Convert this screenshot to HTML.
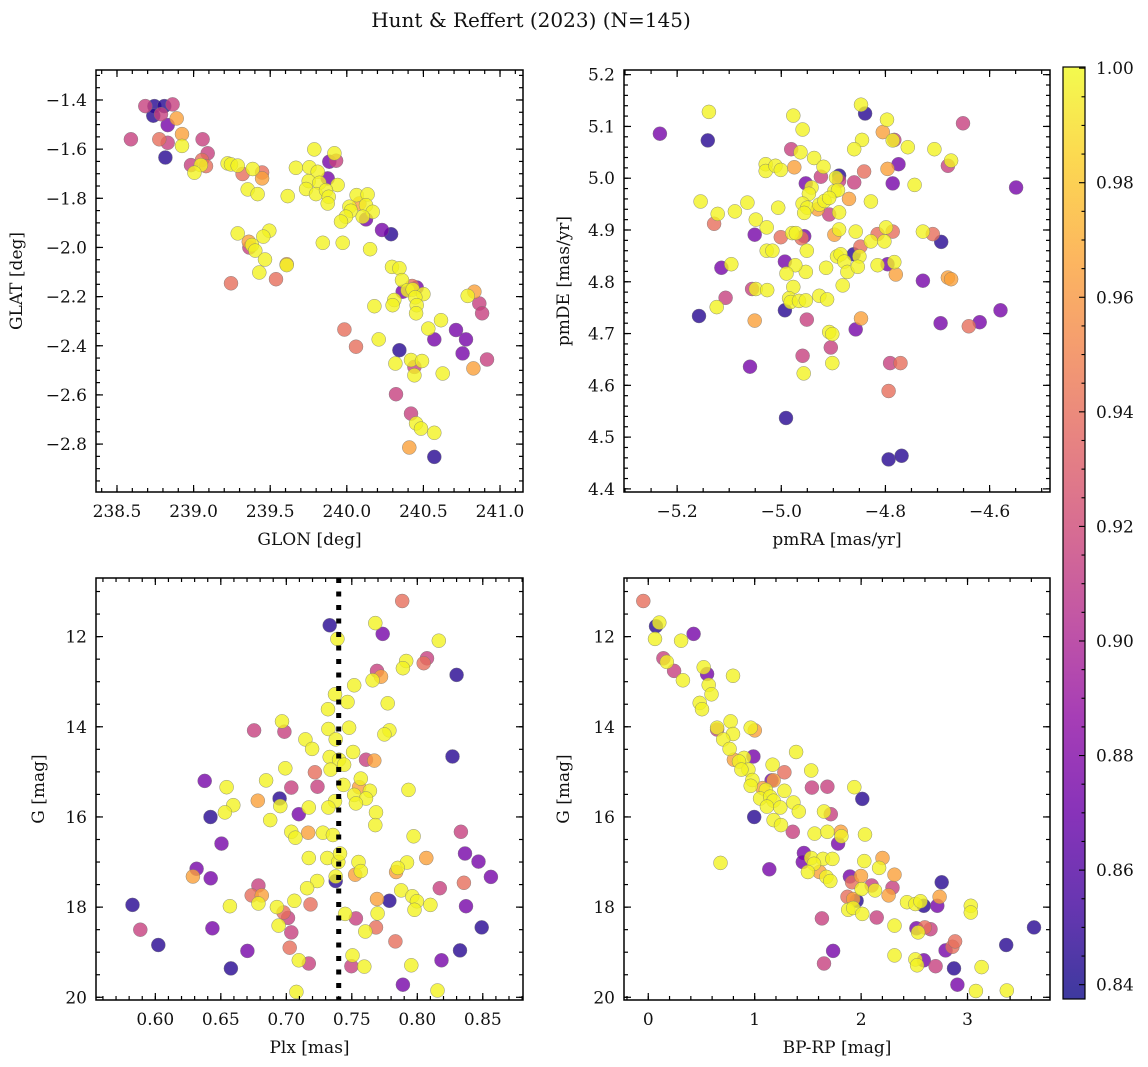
<!DOCTYPE html>
<html><head><meta charset="utf-8"><style>
html,body{margin:0;padding:0;background:#fff;}
svg{display:block;font-family:"DejaVu Serif","Liberation Serif",serif;}
</style></head><body>
<svg id="fig" width="1148" height="1067" viewBox="0 0 1148 1067" xmlns="http://www.w3.org/2000/svg">
<defs>
<linearGradient id="plasmaGrad" x1="0" y1="1" x2="0" y2="0">
<stop offset="0" stop-color="#0d0887"/><stop offset="0.1" stop-color="#41049d"/><stop offset="0.2" stop-color="#6a00a8"/><stop offset="0.3" stop-color="#8f0da4"/><stop offset="0.4" stop-color="#b12a90"/><stop offset="0.5" stop-color="#cc4778"/><stop offset="0.6" stop-color="#e16462"/><stop offset="0.7" stop-color="#f2844b"/><stop offset="0.8" stop-color="#fca636"/><stop offset="0.9" stop-color="#fcce25"/><stop offset="1" stop-color="#f0f921"/>
</linearGradient>
</defs>
<text x="531" y="27" font-size="20" text-anchor="middle" fill="#111">Hunt &amp; Reffert (2023) (N=145)</text>
</svg>
<script>
// ---------- data ----------
const glon = [238.685,238.744,238.809,238.863,238.737,238.787,238.890,238.831,238.924,238.591,238.776,238.831,239.059,238.924,238.816,239.092,238.983,239.055,239.048,239.005,239.081,239.222,239.244,239.288,239.320,239.386,239.447,239.447,239.353,239.418,239.614,239.668,239.788,239.919,239.886,239.930,239.756,239.810,239.875,239.751,239.821,239.940,239.734,239.799,239.864,239.882,239.875,240.064,240.136,240.082,240.125,240.017,240.169,240.027,239.995,239.962,240.104,240.125,240.230,240.289,239.288,239.494,239.455,239.360,239.364,239.381,239.403,239.843,239.973,240.152,239.466,239.608,239.608,239.429,239.244,239.538,240.295,240.343,240.360,240.365,240.426,240.456,240.397,240.430,240.500,240.447,240.456,240.452,240.310,240.299,240.180,240.833,240.789,240.865,240.883,240.615,240.713,240.532,240.571,240.778,240.756,239.984,240.060,240.208,240.343,240.317,240.419,240.491,240.441,240.441,240.626,240.826,240.915,240.321,240.419,240.452,240.484,240.571,240.408,240.571];
const glat = [-1.425,-1.425,-1.425,-1.418,-1.464,-1.458,-1.475,-1.502,-1.539,-1.560,-1.560,-1.574,-1.560,-1.587,-1.634,-1.617,-1.665,-1.644,-1.665,-1.696,-1.669,-1.658,-1.662,-1.667,-1.701,-1.681,-1.695,-1.719,-1.764,-1.783,-1.791,-1.676,-1.601,-1.617,-1.651,-1.647,-1.674,-1.692,-1.719,-1.730,-1.737,-1.746,-1.762,-1.783,-1.767,-1.794,-1.821,-1.787,-1.784,-1.821,-1.828,-1.834,-1.855,-1.851,-1.875,-1.895,-1.875,-1.886,-1.929,-1.946,-1.943,-1.932,-1.956,-1.977,-2.000,-1.990,-2.013,-1.981,-1.981,-2.007,-2.049,-2.068,-2.072,-2.102,-2.146,-2.129,-2.079,-2.085,-2.133,-2.180,-2.157,-2.163,-2.174,-2.171,-2.190,-2.203,-2.235,-2.268,-2.214,-2.235,-2.239,-2.180,-2.197,-2.228,-2.268,-2.296,-2.336,-2.330,-2.374,-2.374,-2.431,-2.334,-2.404,-2.374,-2.418,-2.472,-2.458,-2.462,-2.486,-2.520,-2.513,-2.492,-2.456,-2.597,-2.676,-2.716,-2.737,-2.754,-2.814,-2.852];
const prob1 = [.915,.845,.845,.915,.845,.915,.965,.875,.965,.915,.94,.915,.915,.998,.845,.915,.915,.94,.998,.998,.94,.998,.998,.998,.94,.998,.94,.965,.998,.998,.998,.998,.998,.998,.875,.915,.998,.998,.875,.998,.998,.998,.998,.998,.998,.998,.998,.998,.998,.965,.998,.998,.998,.998,.998,.998,.998,.875,.875,.845,.998,.998,.998,.965,.915,.998,.998,.998,.998,.998,.998,.965,.998,.998,.94,.94,.998,.998,.998,.875,.94,.875,.998,.998,.998,.998,.998,.998,.998,.998,.998,.965,.998,.915,.915,.998,.875,.998,.875,.875,.875,.94,.94,.998,.845,.998,.998,.998,.915,.998,.998,.965,.915,.915,.915,.998,.998,.998,.965,.845];

const pmra = [-5.233,-5.141,-5.139,-4.977,-4.959,-4.847,-4.839,-4.797,-4.805,-4.783,-4.786,-4.845,-4.860,-4.757,-4.706,-4.651,-4.981,-4.963,-4.937,-5.030,-5.030,-5.011,-5.001,-4.975,-4.919,-4.924,-4.889,-4.895,-4.889,-4.860,-4.841,-4.796,-4.775,-4.680,-4.674,-4.786,-4.744,-4.549,-4.953,-4.942,-4.947,-4.898,-4.891,-4.870,-4.828,-5.155,-5.065,-5.089,-5.122,-5.129,-5.006,-5.049,-5.028,-4.959,-4.950,-4.956,-4.930,-4.927,-4.917,-4.908,-4.908,-4.889,-5.051,-5.001,-4.979,-4.972,-4.956,-4.961,-4.951,-5.028,-5.017,-4.898,-4.889,-4.857,-4.848,-4.861,-4.850,-4.828,-4.815,-4.799,-4.786,-4.802,-4.728,-4.709,-4.693,-4.893,-4.886,-4.879,-4.873,-4.853,-4.882,-4.914,-4.953,-4.973,-4.990,-4.993,-4.977,-4.815,-4.796,-4.783,-4.780,-4.728,-4.680,-4.674,-5.115,-5.096,-5.107,-5.124,-5.158,-5.056,-5.049,-5.027,-5.051,-4.993,-4.985,-4.982,-4.966,-4.953,-4.927,-4.912,-4.951,-4.908,-4.902,-4.847,-4.857,-4.905,-4.959,-4.902,-4.957,-5.060,-4.694,-4.640,-4.619,-4.579,-4.791,-4.771,-4.794,-4.991,-4.794,-4.769];
const pmde = [5.086,5.073,5.128,5.121,5.094,5.142,5.125,5.113,5.089,5.074,5.073,5.074,5.056,5.060,5.056,5.106,5.056,5.050,5.039,5.027,5.014,5.024,5.016,5.021,5.022,5.003,5.005,5.001,4.995,4.992,5.013,5.018,5.027,5.024,5.034,4.990,4.987,4.982,4.990,4.982,4.970,4.975,4.977,4.960,4.955,4.955,4.953,4.936,4.931,4.912,4.943,4.920,4.905,4.951,4.943,4.933,4.940,4.949,4.956,4.962,4.930,4.934,4.891,4.886,4.894,4.894,4.888,4.884,4.860,4.860,4.860,4.891,4.901,4.897,4.868,4.853,4.849,4.878,4.892,4.905,4.897,4.878,4.897,4.892,4.877,4.849,4.853,4.839,4.819,4.829,4.793,4.827,4.819,4.832,4.816,4.839,4.790,4.832,4.834,4.838,4.814,4.802,4.808,4.805,4.827,4.834,4.769,4.751,4.734,4.786,4.786,4.784,4.725,4.745,4.768,4.761,4.763,4.764,4.773,4.766,4.727,4.703,4.699,4.729,4.708,4.673,4.657,4.643,4.623,4.636,4.720,4.714,4.722,4.745,4.643,4.643,4.589,4.537,4.457,4.464];
const prob2 = [.875,.845,.998,.998,.998,.998,.845,.998,.965,.915,.998,.998,.998,.998,.998,.915,.915,.998,.998,.998,.998,.998,.998,.965,.998,.915,.845,.998,.915,.915,.94,.965,.875,.915,.998,.875,.998,.875,.875,.998,.998,.998,.998,.965,.998,.998,.998,.998,.998,.94,.998,.998,.998,.998,.998,.998,.965,.998,.998,.998,.915,.998,.875,.94,.998,.998,.875,.94,.998,.998,.998,.965,.998,.998,.94,.845,.998,.998,.94,.998,.94,.998,.998,.94,.845,.998,.998,.998,.998,.998,.998,.998,.998,.998,.998,.875,.998,.998,.875,.998,.965,.875,.965,.965,.875,.998,.915,.998,.845,.915,.998,.998,.965,.845,.998,.998,.998,.998,.998,.998,.915,.998,.998,.965,.875,.915,.915,.998,.998,.875,.875,.94,.875,.875,.915,.94,.94,.845,.845,.845];

const plx = [.7885,.7331,.7679,.7736,.7390,.8164,.8074,.8049,.7915,.7890,.7692,.7723,.7659,.7518,.8300,.7372,.7467,.7774,.7318,.6967,.6754,.6985,.7321,.7479,.7787,.7749,.7377,.7146,.7197,.7510,.8269,.7331,.7403,.7441,.7608,.7672,.7338,.7218,.6992,.6846,.6377,.6544,.7038,.7238,.7569,.7556,.7436,.7518,.7638,.7608,.7531,.7372,.7321,.7172,.7933,.6782,.6949,.6954,.6595,.6531,.6421,.7095,.6877,.7685,.7679,.7038,.7069,.7167,.7279,.7356,.7972,.8333,.6505,.7172,.7313,.7397,.7410,.7551,.7569,.7526,.8069,.7921,.7851,.7838,.8364,.8467,.8562,.8356,.8172,.8372,.8492,.8326,.8185,.8154,.7890,.7954,.7833,.7787,.7877,.7962,.7997,.7979,.8100,.7692,.7697,.7685,.7603,.7531,.7449,.7377,.7377,.7236,.7159,.7185,.7062,.6928,.6979,.7013,.6941,.7038,.7026,.7095,.7172,.7077,.7505,.7497,.7595,.6787,.6736,.6813,.6787,.6569,.6315,.6287,.6423,.5826,.5885,.6023,.6436,.6703,.6577];
const gmag3 = [11.21,11.75,11.70,11.94,12.05,12.09,12.48,12.59,12.54,12.70,12.76,12.89,12.97,13.08,12.85,13.28,13.45,13.48,13.61,13.88,14.08,14.11,14.05,14.02,14.08,14.17,14.28,14.28,14.49,14.56,14.66,14.67,14.73,14.84,14.73,14.75,14.95,15.01,14.92,15.19,15.20,15.34,15.35,15.33,15.15,15.34,15.29,15.51,15.42,15.59,15.70,15.65,15.79,15.79,15.40,15.64,15.59,15.76,15.74,15.90,16.00,15.94,16.07,15.90,16.18,16.33,16.46,16.35,16.35,16.40,16.43,16.33,16.59,16.91,16.91,17.00,16.81,17.00,17.20,17.28,16.91,17.01,17.13,17.22,16.81,16.99,17.33,17.46,17.58,17.98,18.45,18.96,19.18,19.85,19.72,19.29,18.76,17.86,17.63,17.76,17.87,18.06,17.95,17.82,18.14,18.45,18.54,18.25,18.15,17.42,17.32,17.42,17.58,17.94,17.86,18.00,18.12,18.24,18.41,18.56,18.90,19.18,19.25,19.88,19.07,19.31,19.32,17.52,17.74,17.74,17.92,17.98,17.15,17.32,17.36,17.95,18.50,18.84,18.47,18.97,19.36];
const prob3 = [.94,.845,.998,.875,.998,.998,.915,.94,.998,.998,.915,.965,.998,.998,.845,.998,.998,.998,.998,.998,.915,.915,.998,.998,.998,.998,.998,.998,.998,.998,.845,.998,.998,.998,.915,.965,.998,.94,.998,.998,.875,.998,.915,.915,.998,.965,.998,.998,.998,.998,.998,.998,.998,.998,.998,.965,.845,.998,.998,.998,.845,.875,.998,.998,.998,.998,.998,.965,.998,.998,.998,.915,.875,.998,.998,.998,.998,.998,.998,.965,.965,.998,.998,.965,.875,.875,.875,.94,.915,.875,.845,.845,.875,.998,.875,.998,.94,.845,.998,.998,.998,.998,.998,.965,.998,.94,.998,.915,.998,.845,.998,.998,.998,.94,.998,.998,.94,.915,.998,.915,.94,.998,.915,.998,.998,.915,.998,.915,.94,.965,.998,.998,.875,.965,.875,.845,.915,.845,.875,.875,.845];

const bprp = [-0.047,0.073,0.104,0.063,0.309,0.426,0.142,0.174,0.243,0.325,0.521,0.553,0.796,0.568,0.594,0.483,0.505,0.774,0.647,0.647,0.963,1.001,0.796,0.704,0.764,1.389,0.988,0.805,0.900,0.853,0.941,0.875,1.168,1.279,1.531,0.979,1.159,1.178,0.963,1.074,1.105,1.279,1.538,1.683,1.936,2.011,1.051,1.146,1.178,1.115,1.241,1.364,1.415,0.995,1.178,1.247,1.651,1.715,1.358,1.563,1.683,1.809,1.815,1.784,2.037,0.679,1.137,1.462,1.452,1.531,1.642,1.730,1.557,1.500,1.610,1.674,1.711,2.030,2.201,2.169,1.895,1.999,1.915,2.005,2.100,2.131,2.314,2.295,2.258,1.872,1.958,1.926,1.879,1.926,2.011,2.147,1.632,1.737,1.651,2.314,2.314,2.431,2.510,2.558,2.589,2.716,2.757,2.738,3.031,3.031,2.520,2.536,2.652,2.599,2.794,2.858,2.883,2.510,2.526,2.589,2.700,2.873,2.905,3.079,3.132,3.363,3.369,3.625];
const gmag4 = [11.21,11.77,11.69,12.05,12.09,11.94,12.48,12.56,12.76,12.97,12.68,12.83,12.87,13.07,13.28,13.47,13.61,13.88,14.06,14.02,14.02,14.08,14.16,14.28,14.49,14.56,14.66,14.73,14.69,14.77,14.95,14.95,14.84,15.01,14.97,15.18,15.19,15.19,15.31,15.36,15.40,15.42,15.35,15.33,15.34,15.60,15.59,15.55,15.64,15.77,15.79,15.68,15.88,16.00,16.07,16.18,15.88,15.94,16.33,16.37,16.33,16.33,16.43,16.59,16.39,17.02,17.16,16.80,17.00,16.91,16.93,16.93,17.04,17.22,17.22,17.33,17.42,16.98,16.91,17.13,17.32,17.31,17.45,17.60,17.52,17.63,17.28,17.57,17.74,17.77,17.86,17.82,18.06,18.02,18.15,18.23,18.25,18.97,19.25,18.41,19.07,17.89,17.93,17.87,17.97,17.97,17.45,17.77,17.97,18.12,18.47,18.56,18.49,18.45,18.96,18.88,18.76,19.16,19.29,19.18,19.31,19.36,19.72,19.86,19.33,18.84,19.85,18.45];
const prob4 = [.94,.845,.998,.998,.998,.875,.915,.998,.915,.998,.998,.875,.998,.998,.998,.998,.998,.998,.915,.998,.998,.965,.998,.998,.998,.998,.875,.965,.998,.998,.998,.998,.998,.94,.998,.998,.875,.965,.998,.965,.998,.998,.915,.915,.998,.845,.998,.998,.998,.998,.998,.998,.998,.845,.998,.998,.998,.915,.915,.998,.998,.965,.998,.875,.998,.998,.875,.875,.875,.998,.998,.998,.998,.998,.965,.998,.998,.998,.965,.998,.875,.965,.94,.998,.915,.998,.965,.915,.965,.94,.845,.965,.998,.998,.998,.915,.915,.875,.915,.998,.998,.998,.998,.998,.845,.875,.845,.965,.998,.998,.875,.998,.915,.94,.875,.94,.94,.998,.998,.875,.915,.845,.875,.998,.998,.845,.998,.845];

const cbTicks = [0.84,0.86,0.88,0.90,0.92,0.94,0.96,0.98,1.00];
const plxMedian = 0.74;

// ---------- rendering ----------
const NS = "http://www.w3.org/2000/svg";
const svg = document.getElementById('fig');
const VMIN = 0.8375, VMAX = 1.0002;
const FS = 17;
const stops = [[13,8,135],[65,4,157],[106,0,168],[143,13,164],[177,42,144],[204,71,120],[225,100,98],[242,132,75],[252,166,54],[252,206,37],[240,249,33]];
function plasma(v){
  let t = Math.max(0, Math.min(1, (v - VMIN) / (VMAX - VMIN))) * 10;
  const i = Math.min(9, Math.floor(t)), f = t - i;
  const a = stops[i], b = stops[i+1];
  return 'rgb(' + a.map((c,k)=>Math.round(c + (b[k]-c)*f)).join(',') + ')';
}
function mk(tag, attrs, parent){
  const e = document.createElementNS(NS, tag);
  for (const k in attrs) e.setAttribute(k, attrs[k]);
  (parent || svg).appendChild(e);
  return e;
}
function lin(d0,d1,p0,p1){ return v => p0 + (v-d0)/(d1-d0)*(p1-p0); }
function fmt(v,dec){ const s = Math.abs(v).toFixed(dec); return (v < -1e-9 ? '\u2212' : '') + s; }

function panel(cfg){
  const g = mk('g', {});
  
  
  const sx = lin(cfg.xd[0], cfg.xd[1], cfg.L, cfg.R);
  const sy = lin(cfg.yd[0], cfg.yd[1], cfg.B, cfg.T);
  const idx = cfg.x.map((_,i)=>i).sort((a,b)=>cfg.p[a]-cfg.p[b]);
  const pg = mk('g', {}, g);
  
  
  idx.forEach(i=>{
    const c = mk('circle', {cx: sx(cfg.x[i]).toFixed(1), cy: sy(cfg.y[i]).toFixed(1), r: 7, fill: plasma(cfg.p[i]), 'fill-opacity': 0.8, stroke: '#777', 'stroke-width': 0.5, 'stroke-opacity': 0.8}, pg);
    
    
  });
  if (cfg.vline !== undefined){
    const l = mk('line', {x1: sx(cfg.vline), x2: sx(cfg.vline), y1: cfg.T, y2: cfg.B, stroke: '#000', 'stroke-width': 5, 'stroke-dasharray': '5,8.5'}, g);
    
    
  }
  const fr = mk('rect', {x: cfg.L, y: cfg.T, width: cfg.R-cfg.L, height: cfg.B-cfg.T, fill: 'none', stroke: '#000', 'stroke-width': 1.5}, g);
  
  
  const tg = mk('g', {stroke: '#000', 'stroke-width': 1.2}, g);
  function ticks(axis, step, len){
    const [d0, d1] = axis === 'x' ? cfg.xd : cfg.yd;
    const lo = Math.min(d0,d1), hi = Math.max(d0,d1);
    for (let k = Math.ceil(lo/step - 1e-6); k*step <= hi + 1e-9; k++){
      const v = k*step;
      if (axis === 'x'){ const p = sx(v);
        mk('line', {x1:p,x2:p,y1:cfg.B,y2:cfg.B-len}, tg); mk('line', {x1:p,x2:p,y1:cfg.T,y2:cfg.T+len}, tg);
      } else { const p = sy(v);
        mk('line', {x1:cfg.L,x2:cfg.L+len,y1:p,y2:p}, tg); mk('line', {x1:cfg.R,x2:cfg.R-len,y1:p,y2:p}, tg);
      }
    }
  }
  ticks('x', cfg.xminor, 4); ticks('x', cfg.xmajor, 7);
  ticks('y', cfg.yminor, 4); ticks('y', cfg.ymajor, 7);
  cfg.xticks.forEach(v=>{
    const t = mk('text', {x: sx(v), y: cfg.B+25, 'font-size': FS, 'text-anchor': 'middle', fill: '#111'}, g);
    t.textContent = fmt(v, cfg.xdec);
    
    
  });
  cfg.yticks.forEach(v=>{
    const t = mk('text', {x: cfg.L-9, y: sy(v)+6, 'font-size': FS, 'text-anchor': 'end', fill: '#111'}, g);
    t.textContent = fmt(v, cfg.ydec);
    
    
  });
  const xl = mk('text', {x: (cfg.L+cfg.R)/2, y: cfg.B+53, 'font-size': FS, 'text-anchor': 'middle', fill: '#111'}, g);
  xl.textContent = cfg.xlabel;
  
  
  const cy = (cfg.T+cfg.B)/2;
  const yl = mk('text', {x: cfg.ylx, y: cy, 'font-size': FS, 'text-anchor': 'middle', fill: '#111', transform: 'rotate(-90 '+cfg.ylx+' '+cy+')'}, g);
  yl.textContent = cfg.ylabel;
  
  
}

function range(a,b,s){ const r=[]; for(let v=a; v<=b+1e-9; v+=s) r.push(Math.round(v*1000)/1000); return r; }

panel({name:'glon-glat-panel', x:glon, y:glat, p:prob1, L:96, R:523, T:70, B:492,
  xd:[238.363,241.150], yd:[-2.995,-1.278], xmajor:0.5, xminor:0.1, ymajor:0.2, yminor:0.05,
  xticks:range(238.5,241.0,0.5), yticks:range(-2.8,-1.4,0.2), xdec:1, ydec:1,
  xlabel:'GLON [deg]', ylabel:'GLAT [deg]', ylx:22});
panel({name:'proper-motion-panel', x:pmra, y:pmde, p:prob2, L:624, R:1050, T:70, B:492,
  xd:[-5.302,-4.484], yd:[4.394,5.209], xmajor:0.2, xminor:0.05, ymajor:0.1, yminor:0.02,
  xticks:[-5.2,-5.0,-4.8,-4.6], yticks:range(4.4,5.2,0.1), xdec:1, ydec:1,
  xlabel:'pmRA [mas/yr]', ylabel:'pmDE [mas/yr]', ylx:569});
panel({name:'parallax-magnitude-panel', x:plx, y:gmag3, p:prob3, L:96, R:523, T:578, B:1000, vline:plxMedian,
  xd:[0.5547,0.8807], yd:[20.06,10.70], xmajor:0.05, xminor:0.01, ymajor:2, yminor:0.5,
  xticks:range(0.60,0.85,0.05), yticks:[12,14,16,18,20], xdec:2, ydec:0,
  xlabel:'Plx [mas]', ylabel:'G [mag]', ylx:44});
panel({name:'color-magnitude-panel', x:bprp, y:gmag4, p:prob4, L:624, R:1050, T:578, B:1000,
  xd:[-0.228,3.775], yd:[20.06,10.70], xmajor:1, xminor:0.2, ymajor:2, yminor:0.5,
  xticks:[0,1,2,3], yticks:[12,14,16,18,20], xdec:0, ydec:0,
  xlabel:'BP-RP [mag]', ylabel:'G [mag]', ylx:569});

const cbg = mk('g', {});


const CT = 67, CB = 999, CL = 1063, CR = 1085;
const cbr = mk('rect', {x:CL, y:CT, width:CR-CL, height:CB-CT, fill:'url(#plasmaGrad)', 'fill-opacity':0.8}, cbg);


mk('rect', {x:CL, y:CT, width:CR-CL, height:CB-CT, fill:'none', stroke:'#000', 'stroke-width':1.2}, cbg);
const cs = lin(VMIN, VMAX, CB, CT);
for (let v = 0.84; v <= 1.0001; v += 0.005){
  const p = cs(v);
  const major = Math.abs(Math.round(v*50) - v*50) < 1e-6;
  mk('line', {x1:CR, x2:CR-(major?6:3.5), y1:p, y2:p, stroke:'#000', 'stroke-width':1.1}, cbg);
}
cbTicks.forEach(v=>{
  const t = mk('text', {x:CR+11, y:cs(v)+6, 'font-size':FS, fill:'#111'}, cbg);
  t.textContent = v.toFixed(2);
  
  
});
</script>
</body></html>
